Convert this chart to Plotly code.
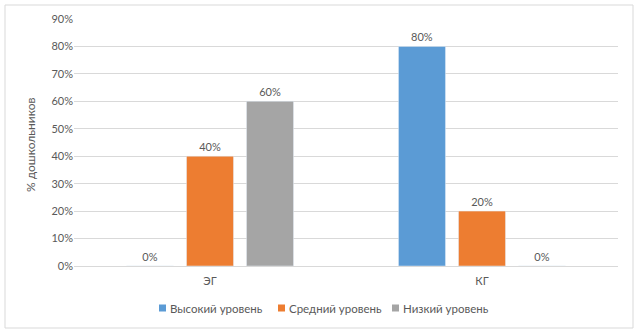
import plotly.graph_objects as go

categories = ["ЭГ", "КГ"]
series_names = ["Высокий уровень", "Средний уровень", "Низкий уровень"]
high = [0.0, 0.8]
medium = [0.4, 0.2]
low = [0.6, 0.0]
colors = ["#5B9BD5", "#ED7D31", "#A5A5A5"]

W, H = 639, 334
L, R, T, B = 74, 21, 19, 68
pw, ph = W - L - R, H - T - B

def px_x(x):
    return (x - L) / pw

def px_y(y):
    return (H - B - y) / ph

fig = go.Figure()
for name, vals, c in zip(series_names, [high, medium, low], colors):
    fig.add_trace(go.Bar(
        x=categories, y=vals, name=name, marker_color=c,
        texttemplate="%{y:.0%}", textposition="outside",
        textfont=dict(color="#595959", size=11), cliponaxis=False,
        showlegend=False,
    ))

# custom legend (small squares like the original)
legend_sq_x = [159, 278, 392]
legend_y = 308
shapes = [dict(type="rect", xref="paper", yref="paper",
               x0=px_x(5), x1=px_x(633), y0=px_y(328), y1=px_y(5),
               line=dict(color="#d9d9d9", width=1), fillcolor="rgba(0,0,0,0)", layer="below")]
annotations = [dict(text="% дошкольников", xref="paper", yref="paper",
                    x=px_x(30), y=px_y(145), xanchor="center", yanchor="middle",
                    textangle=-90, showarrow=False, font=dict(size=12, color="#595959"))]
for name, c, sx in zip(series_names, colors, legend_sq_x):
    shapes.append(dict(type="rect", xref="paper", yref="paper",
                       x0=px_x(sx), x1=px_x(sx + 7), y0=px_y(legend_y + 3.5), y1=px_y(legend_y - 3.5),
                       line=dict(width=0), fillcolor=c))
    annotations.append(dict(text=name, xref="paper", yref="paper", x=px_x(sx + 9), y=px_y(legend_y),
                            xanchor="left", yanchor="middle", showarrow=False,
                            font=dict(size=11.5, color="#595959")))

font = "Lato, Open Sans, sans-serif"
fig.update_layout(
    width=W, height=H,
    margin=dict(l=L, r=R, t=T, b=B, autoexpand=False),
    paper_bgcolor="white", plot_bgcolor="white",
    barmode="group", bargap=0.338, bargroupgap=0.217,
    font=dict(family=font, color="#595959", size=11),
    showlegend=False,
    xaxis=dict(showline=True, linecolor="#d9d9d9", ticks="", showgrid=False, automargin=False,
               ticklabelstandoff=5, tickfont=dict(size=11, color="#595959")),
    yaxis=dict(range=[0, 0.9], dtick=0.1, tickformat=".0%", showgrid=True, gridcolor="#d9d9d9",
               zeroline=False, ticks="", ticklen=0, automargin=False,
               tickfont=dict(size=11, color="#595959")),
    annotations=annotations,
    shapes=shapes,
)
fig.write_html("out.html", post_script="document.body.style.margin='0';",
               config={"displayModeBar": False})
